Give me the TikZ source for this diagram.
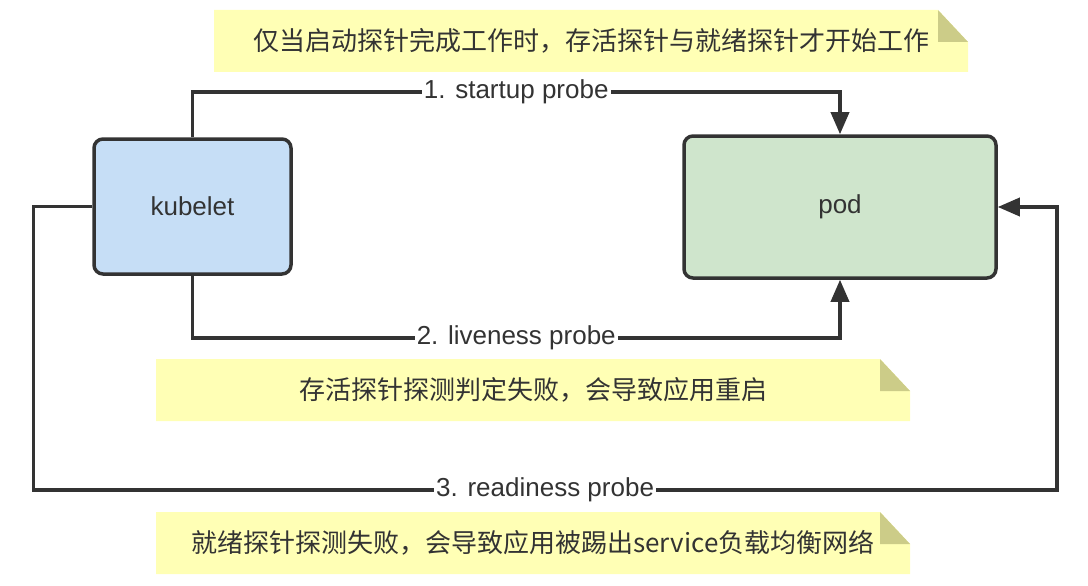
\documentclass[tikz,border=0pt]{standalone}
\usepackage{fontspec}
\setmainfont{Liberation Sans}
\newfontfamily\cjk{Noto Sans CJK SC}
\usetikzlibrary{arrows.meta}
\definecolor{linegray}{HTML}{333333}
\definecolor{kubeblue}{HTML}{C6DEF6}
\definecolor{podgreen}{HTML}{CFE5CC}
\definecolor{noteyellow}{HTML}{FFFFB5}
\definecolor{notefold}{HTML}{CCCC88}
\tikzset{
  box/.style={draw=linegray, line width=3.5pt, rounded corners=9pt, text=linegray,
    font=\fontsize{26}{30}\selectfont},
  probe/.style={draw=linegray, line width=3.5pt,
    -{Triangle[length=22pt,width=18pt]}},
  lbl/.style={fill=white, text=linegray, inner sep=2pt, font=\fontsize{26}{30}\selectfont},
  note/.style={minimum width=754pt, minimum height=62pt, inner sep=0pt, text=linegray,
    font=\cjk\fontsize{26}{30}\selectfont,
    path picture={
      \fill[noteyellow] (path picture bounding box.south west) -- (path picture bounding box.north west)
        -- ([xshift=-30pt]path picture bounding box.north east)
        -- ([yshift=-32pt]path picture bounding box.north east)
        -- (path picture bounding box.south east) -- cycle;
      \fill[notefold] ([xshift=-30pt]path picture bounding box.north east)
        -- ([xshift=-30pt,yshift=-32pt]path picture bounding box.north east)
        -- ([yshift=-32pt]path picture bounding box.north east) -- cycle;
    }}
}
\begin{document}
\begin{tikzpicture}[x=1pt,y=-1pt]
\useasboundingbox (0,0) rectangle (1088,586);
\node[note] (startnote) at (591,41) {仅当启动探针完成工作时，存活探针与就绪探针才开始工作};
\node[note] (livenote) at (533,390) {存活探针探测判定失败，会导致应用重启};
\node[note] (readynote) at (533,543) {就绪探针探测失败，会导致应用被踢出service负载均衡网络};

\node[box, fill=kubeblue, minimum width=197pt, minimum height=135pt] (kubelet) at (192.5,206.5) {kubelet};
\node[box, fill=podgreen, minimum width=312pt, minimum height=142pt] (pod) at (840,207) {pod};

\draw[probe] (kubelet.north) -- ++(0,-45) -| node[lbl, pos=0.25] {1. startup probe} (pod.north);
\draw[probe] (kubelet.south) -- ++(0,62) -| node[lbl, pos=0.25] {2. liveness probe} (pod.south);
\draw[probe] (kubelet.west) -- ++(-59,0) coordinate (r1) -- (r1 |- 0,490)
  -- node[lbl] {3. readiness probe} (1057,490) |- (pod.east);
\end{tikzpicture}
\end{document}
